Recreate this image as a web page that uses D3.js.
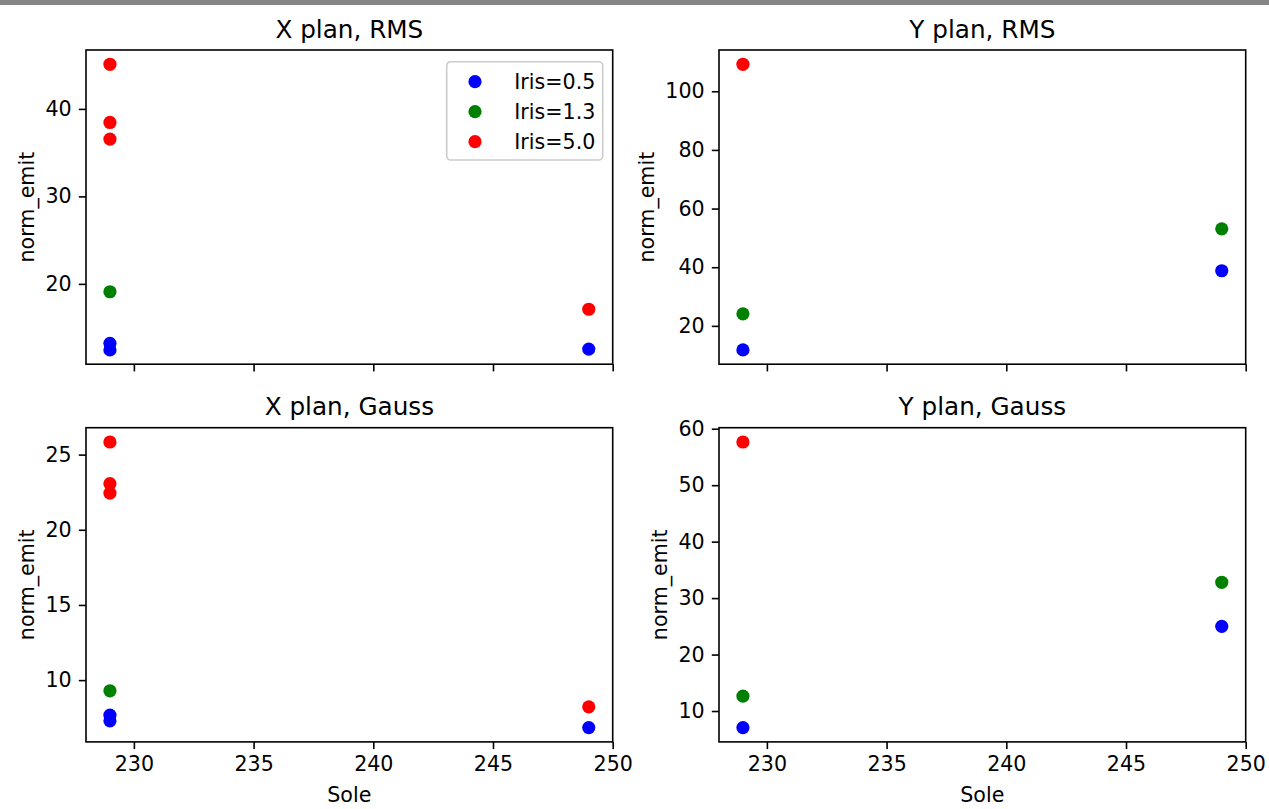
<!DOCTYPE html>
<html>
<head>
<meta charset="utf-8">
<script src="https://cdn.jsdelivr.net/npm/d3@7"></script>
<style>
  body { margin: 0; background: #fff; }
  svg { display: block; font-family: "DejaVu Sans", sans-serif; }
</style>
</head>
<body>
<svg id="fig" width="1269" height="809"></svg>
<script>
// 数据: [Sole, norm_emit]
let irisLabels = ['Iris=0.5', 'Iris=1.3', 'Iris=5.0']
let irisColors = ['#0000ff', '#008000', '#ff0000']

let xRms05 = [[229, 13.2], [229, 12.45], [249, 12.55]]
let xRms13 = [[229, 19.1]]
let xRms50 = [[229, 45.1], [229, 38.45], [229, 36.55], [249, 17.1]]

let yRms05 = [[229, 11.8], [249, 38.8]]
let yRms13 = [[229, 24.1], [249, 53.1]]
let yRms50 = [[229, 109.2]]

let xGauss05 = [[229, 7.67], [229, 7.29], [249, 6.84]]
let xGauss13 = [[229, 9.29]]
let xGauss50 = [[229, 25.84], [229, 23.07], [229, 22.44], [249, 8.22]]

let yGauss05 = [[229, 7.06], [249, 25.0]]
let yGauss13 = [[229, 12.65], [249, 32.8]]
let yGauss50 = [[229, 57.65]]

let soleTicks = [230, 235, 240, 245, 250]
let xRmsTicks = [20, 30, 40]
let yRmsTicks = [20, 40, 60, 80, 100]
let xGaussTicks = [10, 15, 20, 25]
let yGaussTicks = [10, 20, 30, 40, 50, 60]

let panels = [
  { title: 'X plan, RMS', series: [xRms05, xRms13, xRms50], yTicks: xRmsTicks, col: 0, row: 0, legend: true },
  { title: 'Y plan, RMS', series: [yRms05, yRms13, yRms50], yTicks: yRmsTicks, col: 1, row: 0 },
  { title: 'X plan, Gauss', series: [xGauss05, xGauss13, xGauss50], yTicks: xGaussTicks, col: 0, row: 1 },
  { title: 'Y plan, Gauss', series: [yGauss05, yGauss13, yGauss50], yTicks: yGaussTicks, col: 1, row: 1 }
]

let colLeft = [86, 719]
let rowTop = [50, 427.7]
let w = 526.7, h = 314.2
let fs = 20.6 // 10pt

let svg = d3.select('#fig')
svg.append('rect').attr('width', 1269).attr('height', 5).attr('fill', '#858585')

// matplotlib 的 5% 边距
function padded(ext) {
  let d = (ext[1] - ext[0]) * 0.05
  return [ext[0] - d, ext[1] + d]
}

let allPts = panels.flatMap(p => p.series.flat())
let xScale = d3.scaleLinear()
  .domain(padded(d3.extent(allPts, d => d[0])))
  .range([0, w])

panels.forEach(p => {
  let g = svg.append('g')
    .attr('transform', `translate(${colLeft[p.col]},${rowTop[p.row]})`)

  let pts = p.series.flat()
  let yScale = d3.scaleLinear()
    .domain(padded(d3.extent(pts, d => d[1])))
    .range([h, 0])

  let yAxis = g.append('g')
    .call(d3.axisLeft(yScale).tickValues(p.yTicks).tickSize(7.2).tickPadding(7.2).tickFormat(d3.format('d')))
  let xAxis = g.append('g')
    .attr('transform', `translate(0,${h})`)
    .call(d3.axisBottom(xScale).tickValues(soleTicks).tickSize(7.2).tickPadding(7.2)
      .tickFormat(p.row === 1 ? d3.format('d') : ''))

  g.selectAll('.domain').remove()
  g.selectAll('.tick line').attr('stroke', '#000').attr('stroke-width', 1.6)
  g.selectAll('.tick text')
    .attr('fill', '#000')
    .style('font-size', fs + 'px')
    .style('font-family', '"DejaVu Sans", sans-serif')

  // 点
  p.series.forEach((s, i) => {
    g.selectAll(null)
      .data(s)
      .enter()
      .append('circle')
      .attr('cx', d => xScale(d[0]))
      .attr('cy', d => yScale(d[1]))
      .attr('r', 6.6)
      .attr('fill', irisColors[i])
  })

  g.append('rect')
    .attr('width', w).attr('height', h)
    .attr('fill', 'none').attr('stroke', '#000').attr('stroke-width', 1.6)

  g.append('text')
    .attr('x', w / 2).attr('y', -12.5)
    .attr('text-anchor', 'middle')
    .style('font-size', '24.7px')
    .text(p.title)

  let yw = yAxis.node().getBBox().width
  g.append('text')
    .attr('transform', `translate(${-yw - 8.2 - fs * 0.5},${h / 2}) rotate(-90)`)
    .attr('text-anchor', 'middle')
    .attr('dominant-baseline', 'central')
    .style('font-size', fs + 'px')
    .text('norm_emit')

  if (p.row === 1) {
    g.append('text')
      .attr('x', w / 2).attr('y', h + 60)
      .attr('text-anchor', 'middle')
      .style('font-size', fs + 'px')
      .text('Sole')
  }

  if (p.legend) {
    let lg = g.append('g').attr('transform', `translate(${w - 166},${11.7})`)
    lg.append('rect')
      .attr('width', 156).attr('height', 98.3)
      .attr('rx', 4)
      .attr('fill', '#fff').attr('fill-opacity', 0.8)
      .attr('stroke', '#cccccc').attr('stroke-width', 1.6)
    let items = lg.selectAll('g.item')
      .data(irisLabels)
      .enter()
      .append('g')
      .attr('transform', (d, i) => `translate(0,${20 + i * 30})`)
    items.append('circle')
      .attr('cx', 28.3).attr('r', 6.6)
      .attr('fill', (d, i) => irisColors[i])
    items.append('text')
      .attr('x', 67.6).attr('dy', '0.36em')
      .style('font-size', fs + 'px')
      .text(d => d)
  }
})
</script>
</body>
</html>
